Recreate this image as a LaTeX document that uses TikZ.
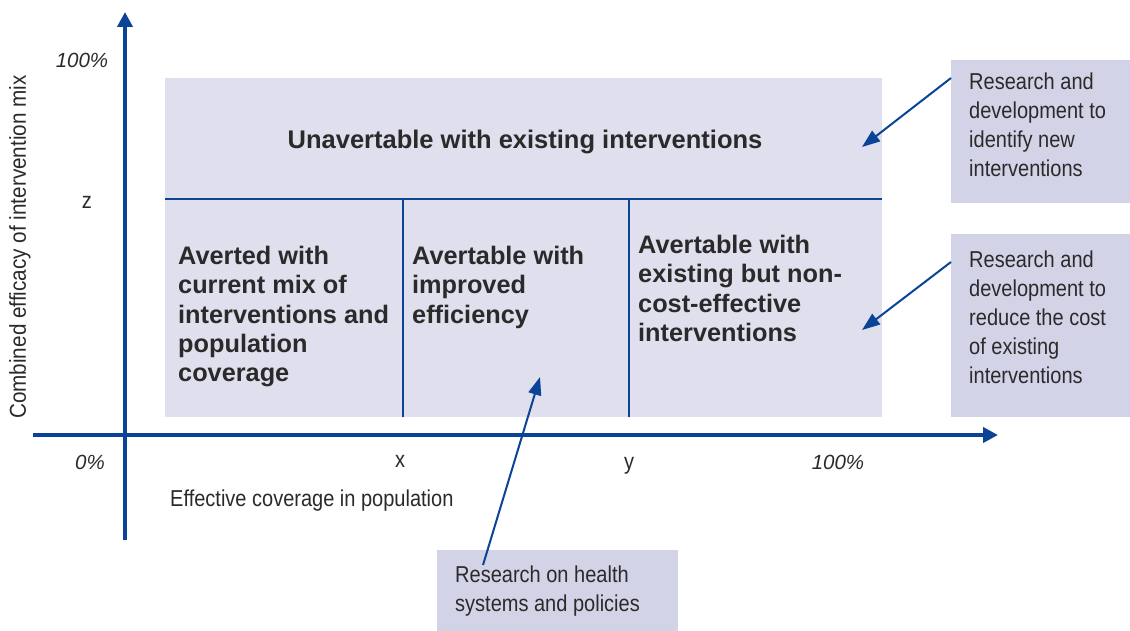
\documentclass[tikz,border=0pt]{standalone}
\usepackage{fontspec}
\setmainfont{Liberation Sans}
\newfontfamily\lightfont[FakeStretch=0.87]{Liberation Sans}
\newfontfamily\axisfont[FakeStretch=0.9]{Liberation Sans}
\usetikzlibrary{arrows.meta,calc}
\definecolor{navy}{HTML}{0B4396}
\definecolor{cellfill}{HTML}{DFDFED}
\definecolor{boxfill}{HTML}{D3D3E8}
\definecolor{ink}{HTML}{2A2A2A}
\begin{document}
\begin{tikzpicture}[x=1pt,y=-1pt,
  region/.style={fill=cellfill,draw=none,inner sep=0pt,outer sep=0pt},
  notebox/.style={fill=boxfill,draw=none,inner sep=0pt,outer sep=0pt},
  boldtext/.style={inner sep=0pt,anchor=north west,align=left,text=ink,font=\bfseries\fontsize{25.3}{29.3}\selectfont},
  lighttext/.style={inner sep=0pt,anchor=north west,align=left,text=ink,font=\lightfont\fontsize{23}{29}\selectfont},
  ticklabel/.style={inner sep=0pt,text=ink,font=\lightfont\fontsize{23}{26}\selectfont},
  pctlabel/.style={inner sep=0pt,text=ink,font=\itshape\fontsize{20.5}{24}\selectfont},
  axis/.style={draw=navy,line width=4pt,-{Triangle[length=15pt,width=15pt]}},
  divider/.style={draw=navy,line width=1.8pt},
  pointer/.style={draw=navy,line width=2pt,-{Triangle[length=18pt,width=13pt]}}]
\useasboundingbox (0,0) rectangle (1130,631);

% regions
\node[region,minimum width=717pt,minimum height=121pt] (top) at (523.5,138.5) {};
\node[region,minimum width=238pt,minimum height=218pt] (c1) at (284,308) {};
\node[region,minimum width=226pt,minimum height=218pt] (c2) at (516,308) {};
\node[region,minimum width=253pt,minimum height=218pt] (c3) at (755.5,308) {};
\draw[divider,line width=1.4pt] (top.south west) -- (top.south east);
\draw[divider] (c1.north east) -- (c1.south east);
\draw[divider] (c2.north east) -- (c2.south east);

% region texts
\node[inner sep=0pt,text=ink,font=\bfseries\fontsize{25.5}{29.3}\selectfont] (ttop) at (525,142) {Unavertable with existing interventions};
\node[boldtext] (t1) at (178,246) {Averted with\\current mix of\\interventions and\\population\\coverage};
\node[boldtext] (t2) at (412,246) {Avertable with\\improved\\efficiency};
\node[boldtext] (t3) at (638,235) {Avertable with\\existing but non-\\cost-effective\\interventions};

% note boxes
\node[notebox,minimum width=179pt,minimum height=143pt] (rd1) at (1040.5,131.5) {};
\node[notebox,minimum width=179pt,minimum height=183pt] (rd2) at (1040.5,325.5) {};
\node[notebox,minimum width=241pt,minimum height=81pt] (hs) at (557.5,590.5) {};
\node[lighttext] (rd1t) at (969,72.5) {Research and\\development to\\identify new\\interventions};
\node[lighttext] (rd2t) at (969,250.5) {Research and\\development to\\reduce the cost\\of existing\\interventions};
\node[lighttext] (hst) at (455,565.5) {Research on health\\systems and policies};

% axes
\coordinate (ybot) at (125,540);
\coordinate (ytop) at (125,12);
\coordinate (xleft) at (33,435);
\coordinate (xright) at (998,435);
\draw[axis] (ybot) -- (ytop);
\draw[axis] (xleft) -- (xright);

% axis labels
\node[pctlabel] (p100y) at (82,60) {100\%};
\node[ticklabel] (lz) at (87,202) {z};
\node[pctlabel] (p0) at (90,462) {0\%};
\node[ticklabel] (lx) at (400,461) {x};
\node[ticklabel] (ly) at (629,466) {y};
\node[pctlabel] (p100x) at (838,462) {100\%};
\node[ticklabel,anchor=west] (xlab) at (170,501) {Effective coverage in population};
\node[inner sep=0pt,text=ink,font=\axisfont\fontsize{23}{26}\selectfont,rotate=90] (ylab) at (20,247) {Combined efficacy of intervention mix};

% pointers
\coordinate (a1s) at ($(rd1.north west)+(0,18)$);
\coordinate (a1e) at (862,147);
\coordinate (a2s) at ($(rd2.north west)+(0,28)$);
\coordinate (a2e) at (862,330);
\coordinate (a3s) at ($(hs.north west)+(46,15)$);
\coordinate (a3e) at (540,377);
\draw[pointer] (a1s) -- (a1e);
\draw[pointer] (a2s) -- (a2e);
\draw[pointer] (a3s) -- (a3e);
\end{tikzpicture}
\end{document}
